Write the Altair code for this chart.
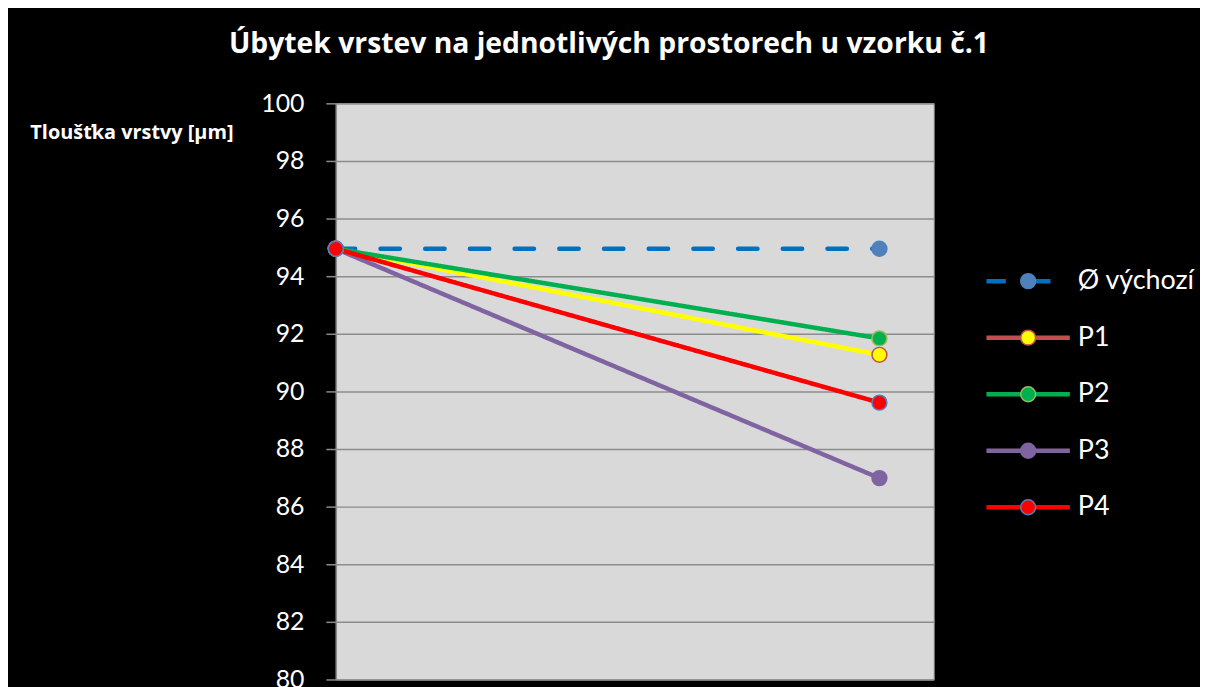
import altair as alt
import pandas as pd

# ---- data ----
series = ["Ø výchozí", "P1", "P2", "P3", "P4"]
positions = [0, 1]
v_vychozi = [94.95, 94.95]
v_p1 = [94.95, 91.27]
v_p2 = [94.95, 91.84]
v_p3 = [94.95, 86.99]
v_p4 = [94.95, 89.61]
y_ticks = [80, 82, 84, 86, 88, 90, 92, 94, 96, 98, 100]

title_text = "Úbytek vrstev na jednotlivých prostorech u vzorku č.1"
y_title = "Tloušťka vrstvy [µm]"

# ---- styles ----
line_colors = ["#0070C0", "#FFFF00", "#00B050", "#8064A2", "#FF0000"]
legend_line_colors = ["#0070C0", "#C0504D", "#00B050", "#8064A2", "#FF0000"]
marker_fill = ["#4F81BD", "#FFFF00", "#00B050", "#8064A2", "#FF0000"]
marker_stroke = ["#4F81BD", "#C0504D", "#9BBB59", "#8064A2", "#4F81BD"]
dashes = [[19.5, 25.5], [1, 0], [1, 0], [1, 0], [1, 0]]

all_vals = [v_vychozi, v_p1, v_p2, v_p3, v_p4]
rows = []
for s, vals in zip(series, all_vals):
    for p, v in zip(positions, vals):
        rows.append({"series": s, "x": p, "value": v})
df = pd.DataFrame(rows)

FONT = "Lato"
GRID = "#8C8C8C"

x_enc = alt.X("x:Q", scale=alt.Scale(domain=[0, 1.1], nice=False, zero=False), axis=None)
y_enc = alt.Y(
    "value:Q",
    scale=alt.Scale(domain=[80, 100], nice=False, zero=False),
    axis=alt.Axis(
        values=y_ticks,
        title=y_title,
        titleAngle=0,
        titleAlign="left",
        titleBaseline="middle",
        titleX=-308,
        titleY=29,
        titleFont="Open Sans",
        titleFontSize=20,
        titleFontWeight="bold",
        titleColor="white",
        labelFont=FONT,
        labelFontSize=25,
        labelColor="white",
        labelPadding=22,
        tickSize=10,
        tickColor=GRID,
        tickWidth=1.5,
        domainColor=GRID,
        domainWidth=1.5,
        grid=True,
        gridColor=GRID,
        gridWidth=1.5,
    ),
)

LEG_X = 683.5
LEG_Y = 165.5
common_leg = dict(
    orient="none",
    legendX=LEG_X,
    legendY=LEG_Y,
    title=None,
    padding=0,
    symbolOffset=0,
    rowPadding=28.9,
    labelFont=FONT,
    labelFontSize=27,
    labelColor="white",
    labelLimit=300,
)

# chart lines (no legend)
lines = alt.Chart(df).mark_line(strokeWidth=4.5, strokeCap="round").encode(
    x=x_enc,
    y=y_enc,
    stroke=alt.Stroke("series:N", scale=alt.Scale(domain=series, range=line_colors), legend=None),
    strokeDash=alt.StrokeDash("series:N", scale=alt.Scale(domain=series, range=dashes), legend=None),
)

# legend-only lines (empty data, legend colours)
leg_line = alt.Legend(
    symbolType="M-4.2,0H4.2",
    symbolSize=400,
    symbolStrokeWidth=4.5,
    labelOffset=36.5,
    **common_leg,
)
legend_lines = alt.Chart(df).transform_filter("datum.value < 0").mark_line(strokeWidth=4.5).encode(
    x=x_enc,
    y=y_enc,
    stroke=alt.Stroke("series:N", scale=alt.Scale(domain=series, range=legend_line_colors), legend=leg_line),
    strokeDash=alt.StrokeDash("series:N", scale=alt.Scale(domain=series, range=dashes), legend=leg_line),
)

# markers (with circle legend, labels hidden)
leg_pt = alt.Legend(
    symbolType="circle",
    symbolSize=225,
    symbolStrokeWidth=1.5,
    labelOffset=36.5,
    labelOpacity=0,
    **common_leg,
)
points = alt.Chart(df).mark_point(filled=True, size=225, strokeWidth=1.5, opacity=1).encode(
    x=x_enc,
    y=y_enc,
    fill=alt.Fill("series:N", scale=alt.Scale(domain=series, range=marker_fill), legend=leg_pt),
    stroke=alt.Stroke("series:N", scale=alt.Scale(domain=series, range=marker_stroke), legend=leg_pt),
)

chart = (
    alt.layer(lines, legend_lines, points)
    .resolve_scale(stroke="independent", strokeDash="independent", fill="independent")
    .properties(
        width=602,
        height=580,
        autosize=alt.AutoSizeParams(type="none"),
        padding={"left": 330, "top": 93.7, "right": 268, "bottom": 5.3},
        background="black",
        title=alt.TitleParams(
            text=title_text,
            font="Open Sans",
            fontSize=28.5,
            fontWeight="bold",
            color="white",
            anchor="middle",
            frame="group",
            dx=-26,
            offset=33,
        ),
    )
    .configure_view(fill="#D9D9D9", stroke="#7F7F7F", strokeWidth=1)
)

chart.save("out.html", embed_options={"renderer": "svg", "actions": False})
